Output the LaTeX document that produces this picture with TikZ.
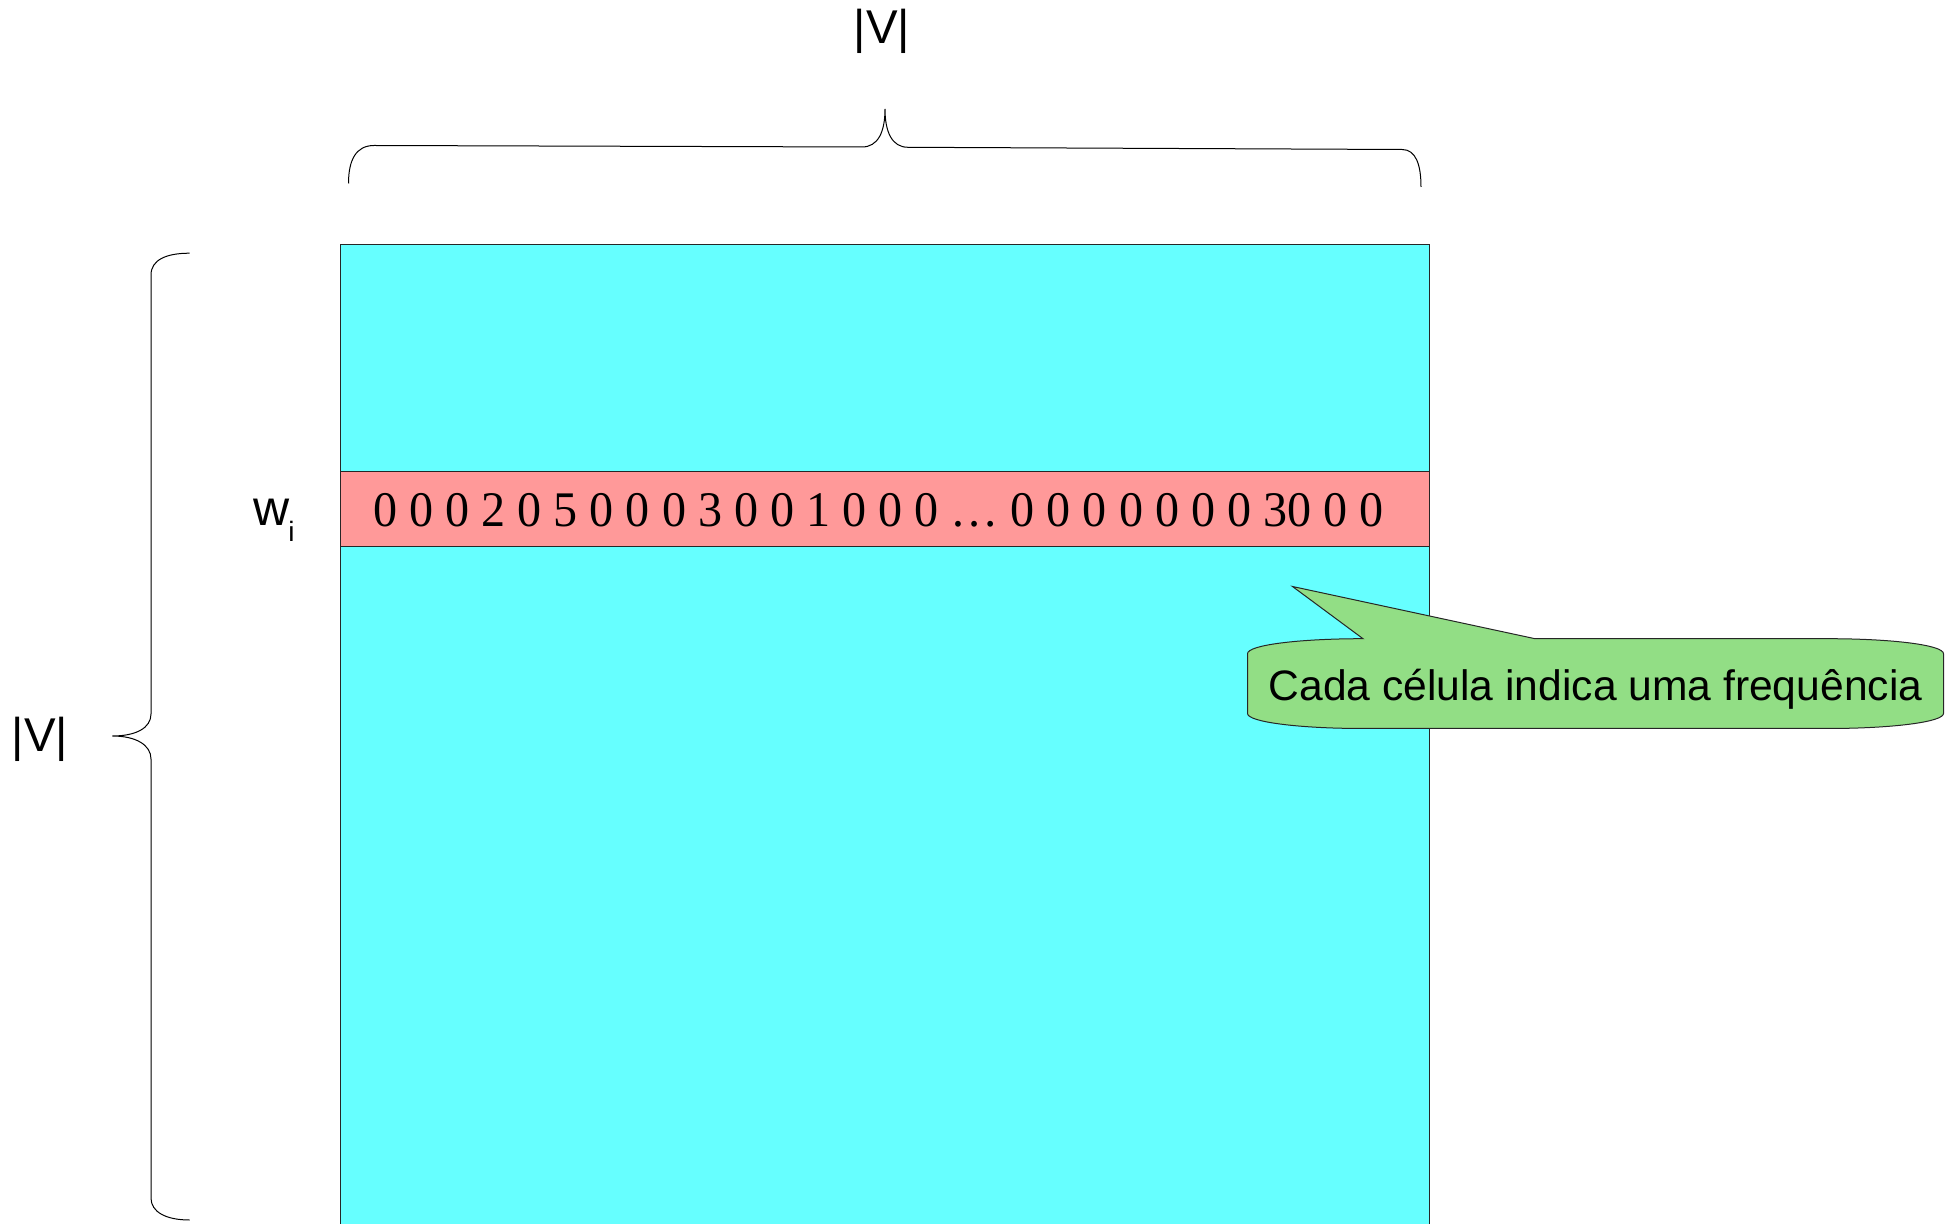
\documentclass[tikz,border=0pt]{standalone}
\usepackage{fontspec}
\setmainfont{Liberation Serif}
\newfontfamily\labelsans{Liberation Sans}
\begin{document}
\begin{tikzpicture}[x=0.5pt,y=-0.5pt,
  outline/.style={draw=black!85,line width=0.5pt},
  bracepath/.style={draw=black,line width=0.5pt},
  dimlabel/.style={font=\labelsans\fontsize{23.7}{28}\selectfont,inner sep=0pt,anchor=base},
  rowtext/.style={font=\fontsize{24.9}{29}\selectfont,inner sep=0pt,anchor=base west},
  calloutbody/.style={fill=calloutgreen,draw=black!85,line width=0.5pt},
  callouttext/.style={font=\labelsans\fontsize{21.3}{26}\selectfont,inner sep=0pt,anchor=base}]
\definecolor{matcyan}{HTML}{66FFFF}
\definecolor{rowpink}{HTML}{FF9999}
\definecolor{calloutgreen}{HTML}{92DE85}
\useasboundingbox (0,0) rectangle (1956,1224);

% co-occurrence matrix
\coordinate (mtl) at (340.5,244.5);
\coordinate (mbr) at (1429.5,1226);
\fill[matcyan] (mtl) rectangle (mbr);
\draw[outline] (mtl) rectangle (mbr);

% highlighted row w_i
\coordinate (rtl) at (340.5,471.5);
\coordinate (rbr) at (1429.5,546.5);
\draw[outline,fill=rowpink] (rtl) rectangle (rbr);
\node[rowtext] (rowvals) at (373,527)
  {\scalebox{0.966}[1]{0 0 0 2 0 5 0 0 0 3 0 0 1 0 0 0 … 0 0 0 0 0 0 0 30 0 0}};

% row label
\node[font=\labelsans\fontsize{25}{30}\selectfont,inner sep=0pt,anchor=base west] (wlab) at (253.5,526) {w};
\node[font=\labelsans\fontsize{14}{17}\selectfont,inner sep=0pt,anchor=base west] (ilab) at (288,541.5) {i};

% top brace and label
\coordinate (tbl) at (348.5,183.5);
\coordinate (tbr) at (1421,187);
\coordinate (tbtip) at (885,109);
\draw[bracepath] (tbl) .. controls (348.5,160) and (356,145.5) .. (374,145.5)
  -- (862,147) .. controls (878,147) and (885,132) .. (tbtip)
  .. controls (885,132) and (892,147.3) .. (908,147.3)
  -- (1402,149.5) .. controls (1416,149.5) and (1421,165) .. (tbr);
\node[dimlabel] (vtop) at (882,43.5) {|V|};

% left brace and label
\coordinate (lbt) at (189.6,253.2);
\coordinate (lbb) at (189.6,1220);
\coordinate (lbtip) at (112.3,736);
\draw[bracepath] (lbt) .. controls (166,253.2) and (151,260) .. (151,275)
  -- (151,714) .. controls (151,728) and (136,736) .. (lbtip)
  .. controls (136,736) and (151,745) .. (151,759)
  -- (151,1198) .. controls (151,1212) and (166,1220) .. (lbb);
\node[dimlabel] (vleft) at (40,752) {|V|};

% callout
\coordinate (ctip) at (1292.5,586.5);
\path[calloutbody] (1363,638.7) -- (ctip) -- (1535,638.7) -- (1828,638.7)
  .. controls (1892,638.7) and (1943.5,645) .. (1943.5,653.7)
  -- (1943.5,713.5)
  .. controls (1943.5,722) and (1892,728.5) .. (1828,728.5)
  -- (1363,728.5)
  .. controls (1299,728.5) and (1247.5,722) .. (1247.5,713.5)
  -- (1247.5,653.7)
  .. controls (1247.5,645) and (1299,638.7) .. (1363,638.7) -- cycle;
\node[callouttext] (note) at (1595.5,700.5) {Cada célula indica uma frequência};
\end{tikzpicture}
\end{document}
